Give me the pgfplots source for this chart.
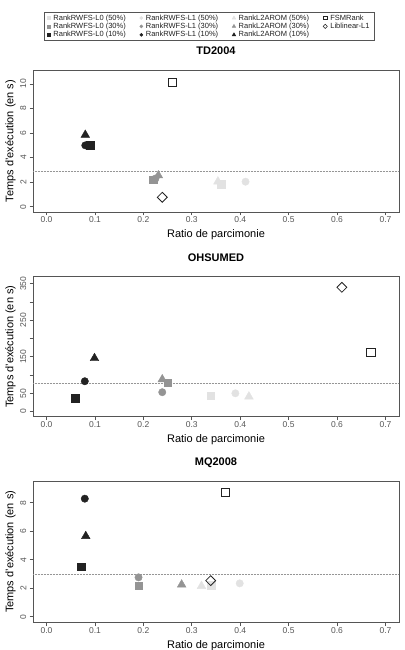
\documentclass[border=0pt]{standalone}
\usepackage{fontspec}
\setmainfont{Liberation Sans}
\usepackage{pgfplots}
\pgfplotsset{compat=1.18}

\definecolor{dark}{RGB}{34,34,34}
\definecolor{mid}{RGB}{148,148,148}
\definecolor{light}{RGB}{226,226,226}
\definecolor{frame}{RGB}{85,85,85}
\definecolor{refline}{RGB}{150,150,150}

\pgfplotsset{
  panel/.style={
    scale only axis, width=366pt,
    xmin=-0.028, xmax=0.728,
    xtick={0,0.1,0.2,0.3,0.4,0.5,0.6,0.7},
    xticklabel style={/pgf/number format/fixed, /pgf/number format/fixed zerofill, /pgf/number format/precision=1},
    /pgf/number format/assume math mode=true,
    tick pos=left, tick align=outside, major tick length=3.5pt,
    axis line style={frame, line width=0.8pt},
    tick style={frame, line width=0.6pt},
    ticklabel style={font=\fontsize{8.5}{10}\selectfont, text=frame},
    yticklabel style={rotate=90, anchor=south, inner sep=1.5pt},
    yticklabel shift=1.5pt,
    xticklabel style={anchor=north, inner sep=1.2pt},
    title style={font=\bfseries\fontsize{11}{13}\selectfont, at={(axis description cs:0.5,1)}, anchor=base, yshift=9pt},
    every axis x label/.style={at={(axis description cs:0.5,0)}, anchor=base, yshift=-25.5pt, font=\fontsize{11}{13}\selectfont},
    every axis y label/.style={at={(axis description cs:0,0.5)}, xshift=-19.5pt, rotate=90, anchor=base, font=\fontsize{11}{13}\selectfont},
    xlabel={Ratio de parcimonie},
    ylabel={Temps d'exécution (en s)},
    clip=false,
  },
  sqS/.style={only marks, mark=square*, mark size=3.8pt, color=#1},
  ciS/.style={only marks, mark=*, mark size=3.7pt, color=#1},
  trS/.style={only marks, mark=triangle*, mark size=5pt, color=#1},
  fsm/.style={only marks, mark=square, mark size=4.1pt, color=dark, mark options={line width=0.8pt, fill=white}},
  lib/.style={only marks, mark=square, mark size=3.5pt, color=dark, mark options={rotate=45, line width=0.8pt, fill=white}},
  refl/.style={densely dotted, refline, line width=0.5pt, forget plot},
}

\begin{document}
\begin{tikzpicture}
\useasboundingbox (0,0) rectangle (404pt,650pt);

% ---------------- TD2004 ----------------
\begin{axis}[panel, at={(33pt,438pt)}, anchor=south west, height=142pt,
  ymin=-0.43, ymax=11.14, ytick={0,2,4,6,8,10},
  title={TD2004},
  legend columns=4,
  legend image code/.code={\draw[#1] plot coordinates {(0pt,0pt)};},
  legend style={at={(axis description cs:0.482,1.408)}, anchor=north,
    draw=frame, line width=0.5pt, font=\fontsize{7.5}{9}\selectfont,
    inner xsep=3pt, inner ysep=1.5pt,
    nodes={inner xsep=2pt, inner ysep=0.6pt, text height=5.6pt, text depth=1.6pt, text=dark},
    /tikz/every odd column/.append style={column sep=1pt},
    /tikz/every even column/.append style={column sep=12pt}},
  legend cell align=left]
\addlegendimage{only marks, mark=square*, mark size=1.6pt, color=light}
\addlegendentry{RankRWFS-L0 (50\%)}
\addlegendimage{only marks, mark=*, mark size=1.5pt, color=light}
\addlegendentry{RankRWFS-L1 (50\%)}
\addlegendimage{only marks, mark=triangle*, mark size=2pt, color=light}
\addlegendentry{RankL2AROM (50\%)}
\addlegendimage{only marks, mark=square, mark size=1.7pt, color=dark, mark options={line width=0.5pt}}
\addlegendentry{FSMRank}
\addlegendimage{only marks, mark=square*, mark size=1.6pt, color=mid}
\addlegendentry{RankRWFS-L0 (30\%)}
\addlegendimage{only marks, mark=*, mark size=1.5pt, color=mid}
\addlegendentry{RankRWFS-L1 (30\%)}
\addlegendimage{only marks, mark=triangle*, mark size=2pt, color=mid}
\addlegendentry{RankL2AROM (30\%)}
\addlegendimage{only marks, mark=square, mark size=1.5pt, color=dark, mark options={rotate=45, line width=0.5pt}}
\addlegendentry{Liblinear-L1}
\addlegendimage{only marks, mark=square*, mark size=1.6pt, color=dark}
\addlegendentry{RankRWFS-L0 (10\%)}
\addlegendimage{only marks, mark=*, mark size=1.5pt, color=dark}
\addlegendentry{RankRWFS-L1 (10\%)}
\addlegendimage{only marks, mark=triangle*, mark size=2pt, color=dark}
\addlegendentry{RankL2AROM (10\%)}

\addplot[refl] coordinates {(-0.028,2.85) (0.728,2.85)};
\addplot[sqS=light, forget plot] coordinates {(0.361,1.83)};
\addplot[ciS=light, forget plot] coordinates {(0.411,2.04)};
\addplot[trS=light, forget plot] coordinates {(0.354,2.05)};
\addplot[ciS=mid, forget plot] coordinates {(0.225,2.3)};
\addplot[trS=mid, forget plot] coordinates {(0.231,2.55)};
\addplot[sqS=mid, forget plot] coordinates {(0.22,2.2)};
\addplot[ciS=dark, forget plot] coordinates {(0.08,5.0)};
\addplot[sqS=dark, forget plot] coordinates {(0.09,5.0)};
\addplot[trS=dark, forget plot] coordinates {(0.08,5.85)};
\addplot[fsm, forget plot] coordinates {(0.26,10.14)};
\addplot[lib, forget plot] coordinates {(0.239,0.77)};
\end{axis}

% ---------------- OHSUMED ----------------
\begin{axis}[panel, at={(33pt,233.3pt)}, anchor=south west, height=140pt,
  ymin=-14, ymax=369, ytick={0,50,100,150,200,250,300,350},
  yticklabels={0,50,,150,,250,,350},
  title={OHSUMED}]
\addplot[refl] coordinates {(-0.028,77) (0.728,77)};
\addplot[sqS=light] coordinates {(0.339,43.7)};
\addplot[ciS=light] coordinates {(0.39,50)};
\addplot[trS=light] coordinates {(0.418,41)};
\addplot[ciS=mid] coordinates {(0.239,53)};
\addplot[trS=mid] coordinates {(0.239,88)};
\addplot[sqS=mid] coordinates {(0.25,79)};
\addplot[sqS=dark] coordinates {(0.059,37)};
\addplot[ciS=dark] coordinates {(0.079,83)};
\addplot[trS=dark] coordinates {(0.099,146)};
\addplot[lib] coordinates {(0.61,340)};
\addplot[fsm] coordinates {(0.67,162)};
\end{axis}

% ---------------- MQ2008 ----------------
\begin{axis}[panel, at={(33pt,27.3pt)}, anchor=south west, height=141.7pt,
  ymin=-0.42, ymax=9.52, ytick={0,2,4,6,8},
  title={MQ2008}]
\addplot[refl] coordinates {(-0.028,3.0) (0.728,3.0)};
\addplot[trS=light] coordinates {(0.32,2.15)};
\addplot[sqS=light] coordinates {(0.34,2.2)};
\addplot[ciS=light] coordinates {(0.399,2.34)};
\addplot[ciS=mid] coordinates {(0.19,2.76)};
\addplot[sqS=mid] coordinates {(0.19,2.18)};
\addplot[trS=mid] coordinates {(0.279,2.25)};
\addplot[ciS=dark] coordinates {(0.079,8.28)};
\addplot[trS=dark] coordinates {(0.081,5.65)};
\addplot[sqS=dark] coordinates {(0.071,3.51)};
\addplot[lib] coordinates {(0.339,2.53)};
\addplot[fsm] coordinates {(0.369,8.73)};
\end{axis}
\end{tikzpicture}
\end{document}
